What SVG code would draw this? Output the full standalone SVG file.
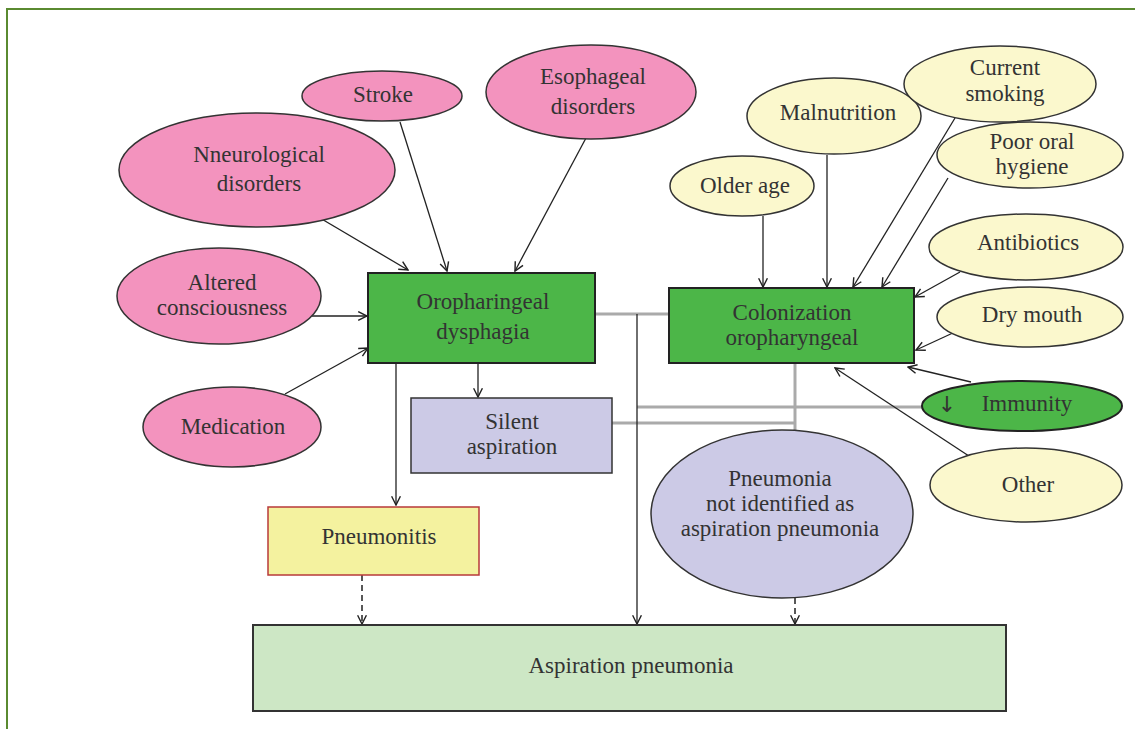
<svg xmlns="http://www.w3.org/2000/svg" width="1135" height="729" viewBox="0 0 1135 729">
<defs>
<marker id="ah" viewBox="0 0 10 10" refX="9" refY="5" markerWidth="11" markerHeight="11" markerUnits="userSpaceOnUse" orient="auto">
<path d="M1,1 L9,5 L1,9" fill="none" stroke="#222" stroke-width="1.3"/>
</marker>
</defs>
<style>
text{font-family:"Liberation Serif","DejaVu Serif",serif;font-size:23px;fill:#333;text-anchor:middle}
.pink{fill:#f393be;stroke:#333;stroke-width:1.5}
.yel{fill:#fbf8cd;stroke:#333;stroke-width:1.5}
.grn{fill:#4cb648;stroke:#222;stroke-width:2}
.lav{fill:#cccae6;stroke:#333;stroke-width:1.5}
.c{fill:none;stroke:#222;stroke-width:1.3;marker-end:url(#ah)}
.d{fill:none;stroke:#222;stroke-width:1.5;stroke-dasharray:6,4;marker-end:url(#ah)}
.g{fill:none;stroke:#aaa;stroke-width:3}
</style>
<rect width="1135" height="729" fill="#fff"/>
<path d="M7,729 V9 H1135" fill="none" stroke="#5a8a30" stroke-width="2"/>

<g id="connectors">
<line class="g" x1="595" y1="314" x2="669" y2="314"/>
<line class="g" x1="637" y1="407" x2="922" y2="407"/>
<line class="g" x1="612" y1="423" x2="796" y2="423"/>
<line class="g" x1="795" y1="363" x2="795" y2="431"/>
<line class="c" x1="637" y1="314" x2="637" y2="624"/>
<line class="c" x1="320" y1="218" x2="408" y2="270"/>
<line class="c" x1="400" y1="122" x2="447" y2="271"/>
<line class="c" x1="586" y1="138" x2="515" y2="271"/>
<line class="c" x1="312" y1="316" x2="367" y2="316"/>
<line class="c" x1="285" y1="394" x2="368" y2="348"/>
<line class="c" x1="478" y1="363" x2="478" y2="397"/>
<line class="c" x1="396" y1="363" x2="396" y2="505"/>
<line class="d" x1="362" y1="575" x2="362" y2="624"/>
<line class="d" x1="795" y1="598" x2="795" y2="624"/>
<line class="c" x1="763" y1="216" x2="763" y2="287"/>
<line class="c" x1="827" y1="155" x2="827" y2="287"/>
<line class="c" x1="955" y1="118" x2="853" y2="287"/>
<line class="c" x1="948" y1="178" x2="882" y2="287"/>
<line class="c" x1="960" y1="272" x2="915" y2="297"/>
<line class="c" x1="955" y1="332" x2="916" y2="350"/>
<line class="c" x1="971" y1="382" x2="908" y2="367"/>
<line class="c" x1="975" y1="460" x2="835" y2="368"/>
</g>

<g id="stroke"><ellipse class="pink" cx="382" cy="96" rx="80" ry="25"/><text x="383" y="102">Stroke</text></g>
<g id="esophageal"><ellipse class="pink" cx="591" cy="92" rx="105" ry="47"/><text x="593" y="84">Esophageal</text><text x="593" y="114">disorders</text></g>
<g id="neurological"><ellipse class="pink" cx="257" cy="170" rx="138" ry="57"/><text x="259" y="162">Nneurological</text><text x="259" y="191">disorders</text></g>
<g id="altered"><ellipse class="pink" cx="219" cy="296" rx="102" ry="48"/><text x="222" y="290">Altered</text><text x="222" y="315">consciousness</text></g>
<g id="medication"><ellipse class="pink" cx="232" cy="427" rx="89" ry="40"/><text x="233" y="434">Medication</text></g>

<g id="dysphagia"><rect class="grn" x="368" y="273" width="227" height="90"/><text x="483" y="309">Oropharingeal</text><text x="483" y="339">dysphagia</text></g>
<g id="silent"><rect class="lav" x="411" y="398" width="201" height="75"/><text x="512" y="429">Silent</text><text x="512" y="454">aspiration</text></g>
<g id="colonization"><rect class="grn" x="669" y="288" width="245" height="75"/><text x="792" y="320">Colonization</text><text x="792" y="345">oropharyngeal</text></g>
<g id="pneumonitis"><rect x="268" y="507" width="211" height="68" fill="#f4f29f" stroke="#b83a3a" stroke-width="1.5"/><text x="379" y="544">Pneumonitis</text></g>
<g id="aspiration"><rect x="253" y="625" width="753" height="86" fill="#cde7c5" stroke="#333" stroke-width="2"/><text x="631" y="673">Aspiration pneumonia</text></g>
<g id="notidentified"><ellipse class="lav" cx="782" cy="514" rx="131" ry="84"/><text x="780" y="486">Pneumonia</text><text x="780" y="511">not identified as</text><text x="780" y="536">aspiration pneumonia</text></g>

<g id="olderage"><ellipse class="yel" cx="742" cy="186" rx="72" ry="30"/><text x="745" y="193">Older age</text></g>
<g id="malnutrition"><ellipse class="yel" cx="834" cy="116" rx="87" ry="38"/><text x="838" y="120">Malnutrition</text></g>
<g id="smoking"><ellipse class="yel" cx="1000" cy="84" rx="96" ry="38"/><text x="1005" y="75">Current</text><text x="1005" y="101">smoking</text></g>
<g id="hygiene"><ellipse class="yel" cx="1030" cy="155" rx="93" ry="33"/><text x="1032" y="149">Poor oral</text><text x="1032" y="174">hygiene</text></g>
<g id="antibiotics"><ellipse class="yel" cx="1026" cy="247" rx="97" ry="33"/><text x="1028" y="250">Antibiotics</text></g>
<g id="drymouth"><ellipse class="yel" cx="1030" cy="317" rx="93" ry="30"/><text x="1032" y="322">Dry mouth</text></g>
<g id="immunity"><ellipse class="grn" cx="1022" cy="406" rx="100" ry="25" stroke-width="1.5"/><text x="947" y="412" style="font-family:'DejaVu Sans',sans-serif;font-size:22px">↓</text><text x="1027" y="411">Immunity</text></g>
<g id="other"><ellipse class="yel" cx="1026" cy="485" rx="96" ry="37"/><text x="1028" y="492">Other</text></g>
</svg>
